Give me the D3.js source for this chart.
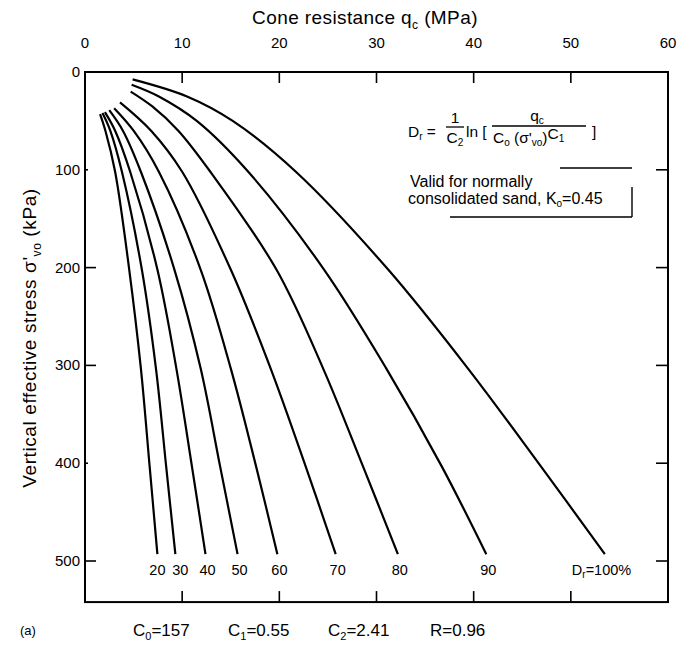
<!DOCTYPE html>
<html>
<head>
<meta charset="utf-8">
<script src="https://cdn.jsdelivr.net/npm/d3@7"></script>
<style>
  body { margin: 0; background: #fff; }
  svg text { font-family: "Liberation Sans", Arial, sans-serif; fill: #000; }
</style>
</head>
<body>
<figure style="margin:0"></figure>
<script>
// relative density curves, [stress kPa, cone resistance MPa]
const dr20 = [[43, 1.55], [60, 2.1], [102, 3.1], [202, 4.55], [303, 5.75], [403, 6.65], [493, 7.45]];
const dr30 = [[42, 1.8], [60, 2.6], [102, 3.8], [202, 5.85], [303, 7.3], [403, 8.35], [493, 9.3]];
const dr40 = [[41, 2.05], [60, 3.1], [102, 4.65], [202, 7.45], [303, 9.4], [403, 11.0], [493, 12.4]];
const dr50 = [[39, 2.5], [60, 3.9], [102, 5.75], [202, 9.2], [303, 11.9], [403, 13.9], [493, 15.7]];
const dr60 = [[37, 3.0], [60, 5.0], [102, 7.6], [202, 11.9], [303, 15.0], [403, 17.6], [493, 19.8]];
const dr70 = [[31, 3.6], [60, 6.8], [102, 10.0], [202, 15.0], [303, 19.1], [403, 22.7], [493, 25.8]];
const dr80 = [[20, 4.7], [35, 6.9], [60, 9.6], [102, 12.9], [202, 19.7], [303, 24.5], [403, 28.6], [493, 32.2]];
const dr90 = [[13, 4.8], [25, 7.6], [50, 11.5], [102, 16.8], [202, 24.6], [303, 31.0], [403, 36.7], [493, 41.3]];
const dr100 = [[7.5, 4.9], [25, 10.5], [50, 15.2], [102, 21.7], [202, 31.2], [303, 39.4], [403, 46.9], [493, 53.5]];

const curveLabels = ["20", "30", "40", "50", "60", "70", "80", "90", "100%"];
const xTicks = [0, 10, 20, 30, 40, 50, 60];
const yTicks = [0, 100, 200, 300, 400, 500];

const curves = [dr20, dr30, dr40, dr50, dr60, dr70, dr80, dr90, dr100];

const width = 682, height = 648;
const x = d3.scaleLinear().domain([0, 60]).range([85, 668]);
const y = d3.scaleLinear().domain([0, 500]).range([72, 561]);
const yBottom = 542; // frame bottom in kPa

const svg = d3.select("figure").append("svg")
    .attr("width", width)
    .attr("height", height);

// frame
svg.append("rect")
    .attr("x", x(0)).attr("y", y(0))
    .attr("width", x(60) - x(0)).attr("height", y(yBottom) - y(0))
    .attr("fill", "none").attr("stroke", "#000").attr("stroke-width", 2);

// top axis ticks + labels
svg.append("g").selectAll("line")
  .data(xTicks.slice(1, -1))
  .join("line")
    .attr("x1", d => x(d)).attr("x2", d => x(d))
    .attr("y1", y(0)).attr("y2", y(0) + 11)
    .attr("stroke", "#000").attr("stroke-width", 1.6);

// bottom axis ticks (pointing up)
svg.append("g").selectAll("line")
  .data(xTicks.slice(1, -1))
  .join("line")
    .attr("x1", d => x(d)).attr("x2", d => x(d))
    .attr("y1", y(yBottom)).attr("y2", y(yBottom) - 11)
    .attr("stroke", "#000").attr("stroke-width", 1.6);

svg.append("g").selectAll("text")
  .data(xTicks)
  .join("text")
    .attr("x", d => x(d)).attr("y", 48)
    .attr("text-anchor", "middle")
    .attr("font-size", 15)
    .text(d => d);

// left ticks (100 and 400 barely visible on the original)
svg.append("g").selectAll("line")
  .data(yTicks.slice(1))
  .join("line")
    .attr("x1", x(0)).attr("x2", d => x(0) + (d === 100 || d === 400 ? 3 : 11))
    .attr("y1", d => y(d)).attr("y2", d => y(d))
    .attr("stroke", "#000").attr("stroke-width", 1.6);

// right ticks
svg.append("g").selectAll("line")
  .data(yTicks.slice(1))
  .join("line")
    .attr("x1", x(60)).attr("x2", x(60) - 12)
    .attr("y1", d => y(d)).attr("y2", d => y(d))
    .attr("stroke", "#000").attr("stroke-width", 1.6);

svg.append("g").selectAll("text")
  .data(yTicks)
  .join("text")
    .attr("x", 80).attr("y", d => y(d) + 5)
    .attr("text-anchor", "end")
    .attr("font-size", 15)
    .text(d => d);

// axis titles
const xt = svg.append("text")
    .attr("x", 365).attr("y", 24)
    .attr("text-anchor", "middle")
    .attr("font-size", 19)
    .attr("letter-spacing", 0.4);
xt.append("tspan").text("Cone resistance q");
xt.append("tspan").attr("font-size", 12).attr("dy", 5).text("c");
xt.append("tspan").attr("dy", -5).text(" (MPa)");

const yt = svg.append("text")
    .attr("transform", "translate(36,338) rotate(-90)")
    .attr("text-anchor", "middle")
    .attr("font-size", 19)
    .attr("letter-spacing", 0.6);
yt.append("tspan").text("Vertical effective stress σ'");
yt.append("tspan").attr("font-size", 12).attr("dy", 5).text("vo");
yt.append("tspan").attr("dy", -5).text(" (kPa)");

// curves
const line = d3.line()
    .x(d => x(d[1]))
    .y(d => y(d[0]))
    .curve(d3.curveCatmullRom.alpha(0.5));

svg.append("g").selectAll("path")
  .data(curves)
  .join("path")
    .attr("d", line)
    .attr("fill", "none")
    .attr("stroke", "#000")
    .attr("stroke-width", 2.2);

// curve labels under the ends; the two leftmost are pushed apart a little
const nudge = [-2, 3, 0, 0, 0, 0, 0, 0, 0];
svg.append("g").selectAll("text")
  .data(curves)
  .join("text")
    .attr("x", (d, i) => i === curves.length - 1 ? x(d[d.length - 1][1]) - 33 : x(d[d.length - 1][1]) + 2 + nudge[i])
    .attr("y", 575)
    .attr("text-anchor", (d, i) => i === curves.length - 1 ? "start" : "middle")
    .attr("font-size", 14.5)
    .each(function (d, i) {
      const t = d3.select(this);
      if (i === curves.length - 1) {
        t.append("tspan").text("D");
        t.append("tspan").attr("font-size", 10).attr("dy", 3).text("r");
        t.append("tspan").attr("dy", -3).text("=" + curveLabels[i]);
      } else {
        t.text(curveLabels[i]);
      }
    });

// formula
const eq = svg.append("g").attr("font-size", 15.5);
const dr = eq.append("text").attr("x", 408).attr("y", 137);
dr.append("tspan").text("D");
dr.append("tspan").attr("font-size", 10).attr("dy", 3).text("r");
dr.append("tspan").attr("dy", -3).text(" =");

eq.append("text").attr("x", 455).attr("y", 123).attr("text-anchor", "middle").text("1");
eq.append("line").attr("x1", 446).attr("x2", 464).attr("y1", 127).attr("y2", 127)
    .attr("stroke", "#000").attr("stroke-width", 1.3);
const c2 = eq.append("text").attr("x", 455).attr("y", 143).attr("text-anchor", "middle");
c2.append("tspan").text("C");
c2.append("tspan").attr("font-size", 10).attr("dy", 3).text("2");

eq.append("text").attr("x", 466).attr("y", 137).text("ln [");

const qc = eq.append("text").attr("x", 537).attr("y", 121).attr("text-anchor", "middle");
qc.append("tspan").text("q");
qc.append("tspan").attr("font-size", 10).attr("dy", 3).text("c");
eq.append("line").attr("x1", 492).attr("x2", 586).attr("y1", 126).attr("y2", 126)
    .attr("stroke", "#000").attr("stroke-width", 1.3);
const den = eq.append("text").attr("x", 493).attr("y", 143);
den.append("tspan").text("C");
den.append("tspan").attr("font-size", 10).attr("dy", 3).text("o");
den.append("tspan").attr("dy", -3).text(" (σ'");
den.append("tspan").attr("font-size", 10).attr("dy", 3).text("vo");
den.append("tspan").attr("dy", -3).text(")");
den.append("tspan").attr("dy", -4).text("C");
den.append("tspan").attr("font-size", 10).attr("dy", 3).text("1");
eq.append("text").attr("x", 592).attr("y", 137).text("]");

// validity note with its partial box
const note = svg.append("g").attr("font-size", 16);
note.append("text").attr("x", 410).attr("y", 187).text("Valid for normally");
const n2 = note.append("text").attr("x", 408).attr("y", 204);
n2.append("tspan").text("consolidated sand, K");
n2.append("tspan").attr("font-size", 10).attr("dy", 3).text("o");
n2.append("tspan").attr("dy", -3).text("=0.45");
note.append("path")
    .attr("d", "M560,168H632M632,187V217M450,217H632")
    .attr("fill", "none").attr("stroke", "#000").attr("stroke-width", 1.4);

// bottom caption
const cap = svg.append("g").attr("font-size", 17);
cap.append("text").attr("x", 20).attr("y", 635).attr("font-size", 13).text("(a)");
const capItems = [["C", "0", "=157", 133], ["C", "1", "=0.55", 228], ["C", "2", "=2.41", 328], ["R", "", "=0.96", 430]];
capItems.forEach(c => {
  const t = cap.append("text").attr("x", c[3]).attr("y", 636);
  t.append("tspan").text(c[0]);
  if (c[1]) t.append("tspan").attr("font-size", 11).attr("dy", 4).text(c[1]);
  t.append("tspan").attr("dy", c[1] ? -4 : 0).text(c[2]);
});
</script>
</body>
</html>
